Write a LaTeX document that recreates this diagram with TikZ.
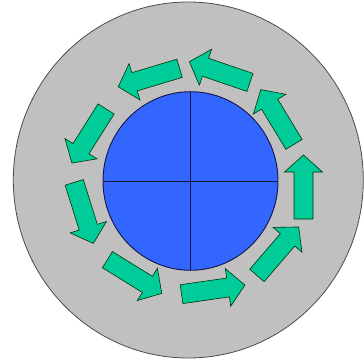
\documentclass[tikz,border=0pt]{standalone}
\usepackage{tikz}
\definecolor{ringgray}{RGB}{192,192,192}
\definecolor{rotorblue}{RGB}{51,102,255}
\definecolor{flowgreen}{RGB}{0,204,153}
\definecolor{navy}{RGB}{20,20,70}
\tikzset{
  flowarrow/.style={fill=flowgreen, draw=black!80!green, line width=0.6pt, line join=miter},
  outerdisc/.style={fill=ringgray, draw=black!70, line width=0.8pt},
  innerdisc/.style={fill=rotorblue, draw=navy, line width=0.9pt},
  crossline/.style={draw=navy, line width=0.7pt}
}
\newcommand\flowarr[3]{%
  \draw[flowarrow, shift={(#1,#2)}, rotate=#3]
    (-32,-9.5) -- (15,-9.5) -- (15,-19) -- (32,0) -- (15,19) -- (15,9.5) -- (-32,9.5) -- cycle;}
\begin{document}
\begin{tikzpicture}[x=1pt,y=1pt]
\useasboundingbox (0,0) rectangle (364,362);
\clip (0,0) rectangle (364,362);
\fill[white] (0,0) rectangle (364,362);
\draw[outerdisc] (188.3,182) ellipse [x radius=175, y radius=178];
\draw[innerdisc] (190.5,181) ellipse [x radius=87.5, y radius=89.3];
\draw[crossline] (103,181) -- (278,181);
\draw[crossline] (190.5,91.7) -- (190.5,270.3);
\flowarr{148.9}{284.5}{196.7}
\flowarr{219.7}{289.9}{161.1}
\flowarr{277.4}{245}{121.2}
\flowarr{303.5}{175}{90}
\flowarr{277.8}{110.8}{49.3}
\flowarr{213.2}{72.4}{8.2}
\flowarr{134.6}{85.5}{-31.8}
\flowarr{83.8}{149.1}{-72.6}
\flowarr{89}{226}{237.7}
\end{tikzpicture}
\end{document}
